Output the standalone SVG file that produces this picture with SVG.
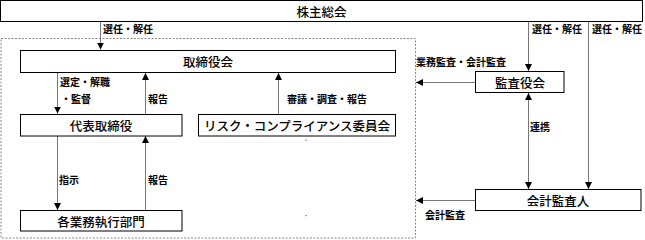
<svg xmlns="http://www.w3.org/2000/svg" width="645" height="240" viewBox="0 0 645 240">
<style>
.box{fill:#fff;stroke:#000;stroke-width:1}
.bt{font-family:"Noto Sans CJK JP","Noto Sans",sans-serif;font-size:12.5px;font-weight:500;fill:#000;text-anchor:middle;dominant-baseline:central}
.lb{font-family:"Noto Sans CJK JP","Noto Sans",sans-serif;font-size:10px;font-weight:bold;fill:#000}
.ln{stroke:#777;stroke-width:1;fill:none}
</style>
<defs>
<marker id="ah" viewBox="0 0 8 8" refX="8" refY="4" markerWidth="7" markerHeight="7" markerUnits="userSpaceOnUse" orient="auto-start-reverse">
<path d="M0,0 L8,4 L0,8 Z" fill="#000"/>
</marker>
</defs>
<rect x="1" y="38.5" width="414.5" height="199.5" fill="none" stroke="#888" stroke-width="1" stroke-dasharray="2,1.5"/>
<g id="connectors">
<line class="ln" x1="100.5" y1="21.5" x2="100.5" y2="49.5" marker-end="url(#ah)"/>
<line class="ln" x1="57.5" y1="72.5" x2="57.5" y2="113.5" marker-end="url(#ah)"/>
<line class="ln" x1="145.5" y1="114" x2="145.5" y2="73" marker-end="url(#ah)"/>
<line class="ln" x1="278.5" y1="114" x2="278.5" y2="73" marker-end="url(#ah)"/>
<line class="ln" x1="57.5" y1="136" x2="57.5" y2="210" marker-end="url(#ah)"/>
<line class="ln" x1="145.5" y1="210" x2="145.5" y2="136" marker-end="url(#ah)"/>
<line class="ln" x1="528.5" y1="21.5" x2="528.5" y2="71" marker-end="url(#ah)"/>
<line class="ln" x1="588.5" y1="21.5" x2="588.5" y2="189" marker-end="url(#ah)"/>
<line class="ln" x1="528.5" y1="93" x2="528.5" y2="189" marker-start="url(#ah)" marker-end="url(#ah)"/>
<line class="ln" x1="475" y1="82.5" x2="416" y2="82.5" marker-end="url(#ah)"/>
<line class="ln" x1="475" y1="200.5" x2="416" y2="200.5" marker-end="url(#ah)"/>
<text class="lb" x="103" y="33">選任・解任</text>
<text class="lb" x="532" y="33">選任・解任</text>
<text class="lb" x="592" y="33">選任・解任</text>
<text class="lb" x="60" y="86">選定・解職</text>
<text class="lb" x="61" y="103">・監督</text>
<text class="lb" x="148" y="103">報告</text>
<text class="lb" x="287" y="103">審議・調査・報告</text>
<text class="lb" x="59" y="184">指示</text>
<text class="lb" x="148" y="184">報告</text>
<text class="lb" x="416" y="66">業務監査・会計監査</text>
<text class="lb" x="530" y="131">連携</text>
<text class="lb" x="425" y="219">会計監査</text>
</g>
<g id="kabunushi"><rect class="box" x="0.5" y="0.5" width="642" height="21"/><text class="bt" x="321.5" y="11.5">株主総会</text></g>
<g id="torishimariyakukai"><rect class="box" x="20.5" y="50.5" width="375" height="22"/><text class="bt" x="208" y="61.5">取締役会</text></g>
<g id="daihyo"><rect class="box" x="20.5" y="114.5" width="161.5" height="21.5"/><text class="bt" x="101" y="125.5">代表取締役</text></g>
<g id="risk"><rect class="box" x="198.5" y="114.5" width="197" height="21.5"/><text class="bt" x="297" y="125.5">リスク・コンプライアンス委員会</text></g>
<g id="kakugyomu"><rect class="box" x="20.5" y="210.5" width="161.5" height="20.5"/><text class="bt" x="101" y="221">各業務執行部門</text></g>
<g id="kansayakukai"><rect class="box" x="475.5" y="71.5" width="88.5" height="21"/><text class="bt" x="520" y="82">監査役会</text></g>
<g id="kaikei"><rect class="box" x="475.5" y="189.5" width="165.5" height="21"/><text class="bt" x="558" y="200">会計監査人</text></g>
<rect x="305.5" y="139.5" width="1.2" height="1.2" fill="#666"/>
<rect x="305.5" y="215" width="1.2" height="1.2" fill="#666"/>
</svg>
